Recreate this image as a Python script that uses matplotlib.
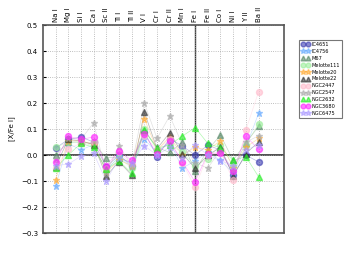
import numpy as np
import matplotlib
matplotlib.use('Agg')
import matplotlib.pyplot as plt

elements = ['Na I', 'Mg I', 'Si I', 'Ca I', 'Sc II', 'Ti I', 'Ti II', 'V I', 'Cr I',
            'Cr II', 'Mn I', 'Fe I', 'Fe II', 'Co I', 'Ni I', 'Y II', 'Ba II']

IC4651     = [0.027, 0.06, 0.07, 0.05, -0.045, 0.0, -0.04, 0.09, -0.006, 0.063, 0.035, 0.0, 0.038, 0.02, -0.075, 0.0, -0.026]
IC4756     = [-0.12, 0.045, 0.02, 0.04, -0.06, -0.005, -0.045, 0.06, 0.01, 0.05, -0.05, -0.022, 0.01, -0.02, -0.07, 0.03, 0.16]
M67        = [0.0, 0.05, 0.05, 0.045, -0.01, -0.01, -0.03, 0.095, 0.03, 0.01, 0.05, -0.06, 0.02, 0.077, -0.02, 0.047, 0.11]
Melotte111 = [0.03, 0.05, 0.05, 0.035, -0.055, -0.01, -0.05, 0.1, 0.02, 0.04, 0.01, -0.04, -0.015, 0.04, -0.04, 0.04, 0.12]
Melotte20  = [-0.095, 0.055, 0.055, 0.04, -0.065, -0.02, -0.04, 0.14, 0.02, 0.07, 0.0, 0.03, 0.02, 0.055, -0.05, 0.03, 0.064]
Melotte22  = [-0.045, 0.06, 0.055, 0.04, -0.08, -0.025, -0.077, 0.165, 0.025, 0.086, 0.006, -0.051, 0.0, 0.03, -0.081, 0.006, 0.05]
NGC2447    = [-0.05, 0.025, 0.045, 0.05, -0.05, 0.01, -0.035, 0.075, 0.02, 0.06, -0.03, -0.124, 0.0, 0.01, -0.096, 0.096, 0.243]
NGC2547    = [-0.015, 0.065, 0.06, 0.124, -0.07, 0.036, -0.04, 0.2, 0.064, 0.151, 0.04, -0.03, -0.05, 0.02, -0.06, 0.05, 0.074]
NGC2632    = [-0.05, 0.0, 0.045, 0.03, -0.055, -0.022, -0.07, 0.095, 0.026, 0.04, 0.073, 0.106, 0.045, 0.028, -0.02, -0.006, -0.083]
NGC3680    = [-0.027, 0.072, 0.06, 0.07, -0.041, 0.016, -0.02, 0.08, 0.006, 0.053, -0.026, -0.103, 0.006, 0.009, -0.062, 0.073, 0.022]
NGC6475    = [-0.04, -0.035, -0.004, 0.007, -0.1, -0.01, -0.03, 0.036, 0.0, 0.03, -0.01, 0.04, 0.0, -0.022, -0.04, 0.02, 0.04]

clusters = ['IC4651', 'IC4756', 'M67', 'Melotte111', 'Melotte20', 'Melotte22',
            'NGC2447', 'NGC2547', 'NGC2632', 'NGC3680', 'NGC6475']
values = [IC4651, IC4756, M67, Melotte111, Melotte20, Melotte22,
          NGC2447, NGC2547, NGC2632, NGC3680, NGC6475]
colors = ['#3a3ab0', '#66aaff', '#558866', '#99ee99', '#ffaa33', '#333333',
          '#ffbbcc', '#aaaaaa', '#22ee22', '#ff22ff', '#aa99ff']
markers = ['o', '*', '^', 'o', '*', '^', 'o', '*', '^', 'o', '*']

#==================================
def DrawFig():
  fig = plt.figure(figsize=(3.54, 2.64), dpi=100)
  ax = fig.add_axes([0.121, 0.117, 0.681, 0.788])
  x = np.arange(len(elements))

  ax.axhline(0.0, color='#333333', lw=1.2, zorder=1)
  ax.axvline(elements.index('Fe I'), color='#333333', lw=1.0, zorder=1)

  for name, v, c, m in zip(clusters, values, colors, markers):
    ax.plot(x, v, '-', color=c, lw=0.5, alpha=0.35, zorder=2)
    ms = 5 if m == '*' else 4.3
    ax.plot(x, v, m, color=c, ms=ms, mec=c, alpha=0.6, lw=0, label=name, zorder=3)

  ax.set_xlim(-1, 18)
  ax.set_ylim(-0.3, 0.5)
  ax.set_yticks(np.arange(-0.3, 0.51, 0.1))
  ax.set_xticks(x)
  ax.set_xticklabels(elements, rotation=90, fontsize=5)
  ax.xaxis.tick_top()
  ax.tick_params(axis='y', labelsize=5, direction='in', length=2)
  ax.tick_params(axis='x', direction='in', length=0, pad=2)
  ax.set_ylabel('[X/Fe I]', fontsize=5, labelpad=4)
  ax.grid(True, ls=':', color='#aaaaaa', lw=0.6)
  for s in ax.spines.values():
    s.set_color('#555555')
    s.set_linewidth(1.2)

  leg = fig.legend(loc='upper left', bbox_to_anchor=(0.838, 0.858), fontsize=3.6,
                   numpoints=2, frameon=True, fancybox=False, borderpad=0.4,
                   labelspacing=0.38, handlelength=1.6, handletextpad=0.4,
                   markerscale=0.8)
  leg.get_frame().set_edgecolor('#555555')
  leg.get_frame().set_linewidth(0.8)

  plt.savefig('out.png', dpi=100)
  return

#==================================
def main():
  DrawFig()
  return

if __name__ == '__main__':
  main()
